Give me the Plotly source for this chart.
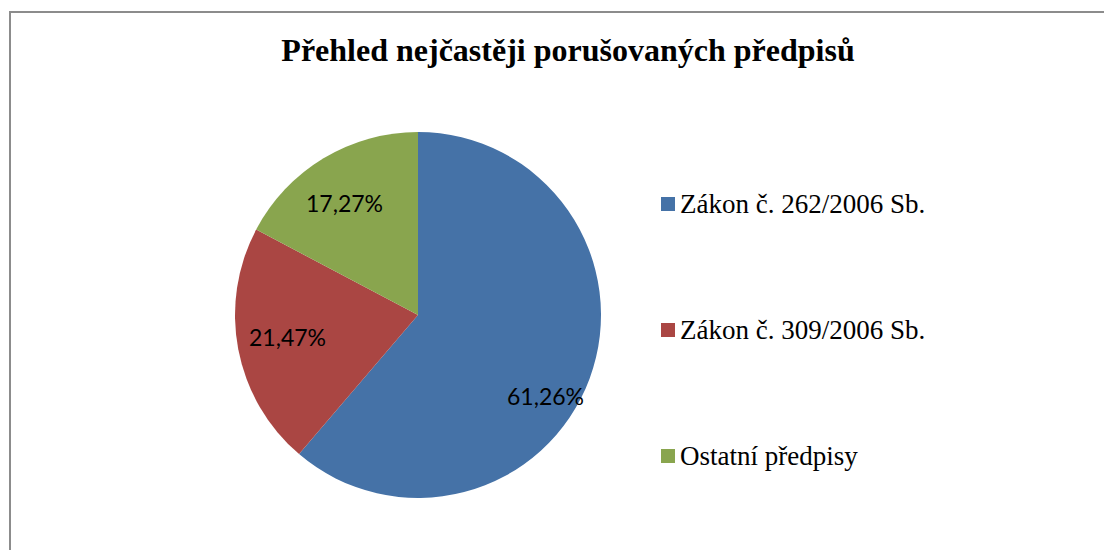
import plotly.graph_objects as go

# slice data
labels = ["Zákon č. 262/2006 Sb.", "Zákon č. 309/2006 Sb.", "Ostatní předpisy"]
values = [61.26, 21.47, 17.27]
colors = ["#4572A7", "#AA4643", "#89A54E"]

# where Excel put the percentage labels (page pixels)
label_pos = [(545, 396), (287, 337), (344, 203)]

# the page body has an 8px margin, so work in page pixels and shift
OFF = 8
W, H = 1104, 542


def px_x(x):
    return (x - OFF) / W


def px_y(y):
    return 1 - (y - OFF) / H


fig = go.Figure()
fig.add_trace(go.Pie(
    labels=labels,
    values=values,
    sort=False,
    direction="clockwise",
    rotation=0,
    marker=dict(colors=colors, line=dict(width=0)),
    textinfo="none",
    showlegend=False,
    hoverinfo="label+percent",
    domain=dict(x=[px_x(235), px_x(601)], y=[px_y(498), px_y(132)]),
))

shapes = [dict(type="rect", xref="paper", yref="paper",
               x0=px_x(10), x1=px_x(1140), y0=px_y(600), y1=px_y(12),
               line=dict(color="#8c8c8c", width=2), fillcolor="rgba(0,0,0,0)")]
annotations = []

# percentage labels
total = sum(values)
for v, (lx, ly) in zip(values, label_pos):
    txt = f"{100 * v / total:.2f}".replace(".", ",") + "%"
    annotations.append(dict(text=txt, xref="paper", yref="paper",
                            x=px_x(lx), y=px_y(ly), xanchor="center", yanchor="middle",
                            showarrow=False,
                            font=dict(family="Lato", size=23, color="black")))

# hand-made legend, spaced like the original
for i, (name, col) in enumerate(zip(labels, colors)):
    yc = 204 + i * 126
    shapes.append(dict(type="rect", xref="paper", yref="paper",
                       x0=px_x(661), x1=px_x(675), y0=px_y(yc + 7), y1=px_y(yc - 7),
                       line=dict(width=0), fillcolor=col))
    annotations.append(dict(text=name, xref="paper", yref="paper",
                            x=px_x(678), y=px_y(yc), xanchor="left", yanchor="middle",
                            showarrow=False,
                            font=dict(family="Liberation Serif", size=27, color="black")))

fig.update_layout(
    width=W, height=H,
    margin=dict(l=0, r=0, t=0, b=0),
    paper_bgcolor="white",
    title=dict(text="Přehled nejčastěji porušovaných předpisů",
               x=px_x(568), xanchor="center", y=px_y(50), yanchor="middle",
               font=dict(family="Liberation Serif", size=32, color="black", weight="bold")),
    shapes=shapes,
    annotations=annotations,
)

fig.write_html("out.html")
